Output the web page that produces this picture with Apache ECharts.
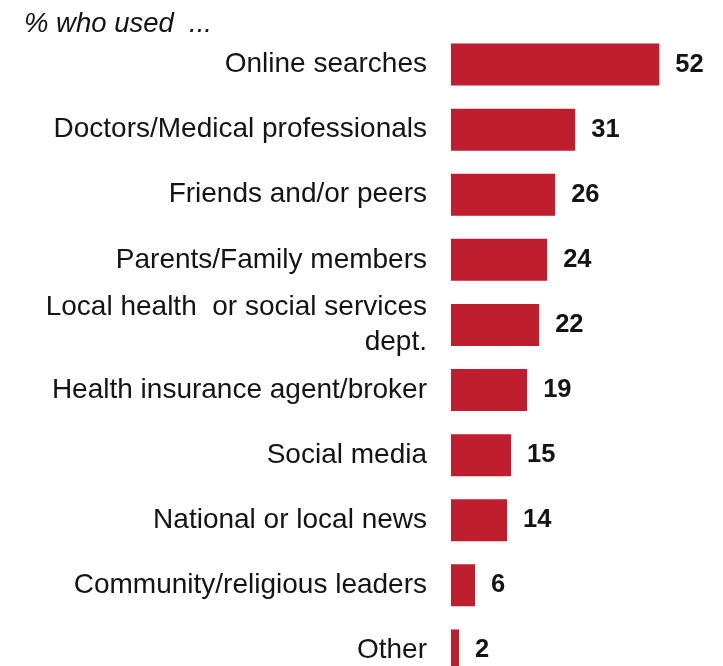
<!DOCTYPE html>
<html>
<head>
<meta charset="utf-8">
<script src="https://cdn.jsdelivr.net/npm/echarts@6/dist/echarts.min.js"></script>
<style>
  html, body { margin: 0; padding: 0; background: #ffffff; overflow: hidden; }
  /* the last row runs past the bottom edge of the page, so the canvas is taller than the viewport */
  #chart { width: 723px; height: 700px; }
</style>
</head>
<body>
<div id="chart"></div>
<script>
// Sources people used, share in percent
const categories = [
  'Online searches',
  'Doctors/Medical professionals',
  'Friends and/or peers',
  'Parents/Family members',
  'Local health  or social services\ndept.',
  'Health insurance agent/broker',
  'Social media',
  'National or local news',
  'Community/religious leaders',
  'Other'
];
const values = [52, 31, 26, 24, 22, 19, 15, 14, 6, 2];
const headerText = '% who used  ...';

const FONT = '"Liberation Sans", Arial, sans-serif';
const BAR_RED = '#BE1E2D';
const INK = '#141414';

const chart = echarts.init(document.getElementById('chart'), null, { renderer: 'canvas' });

chart.setOption({
  animation: false,
  backgroundColor: '#ffffff',
  title: {
    text: headerText,
    left: 19,
    top: 6,
    textStyle: {
      fontFamily: FONT,
      fontSize: 27.5,
      fontStyle: 'italic',
      fontWeight: 'normal',
      color: INK
    }
  },
  grid: {
    left: 451,
    top: 32,
    height: 651,
    width: 240.4,
    containLabel: false
  },
  xAxis: {
    type: 'value',
    min: 0,
    max: 60,
    show: false
  },
  yAxis: {
    type: 'category',
    data: categories,
    inverse: true,
    axisLine: { show: false },
    axisTick: { show: false },
    splitLine: { show: false },
    axisLabel: {
      margin: 24,
      fontFamily: FONT,
      fontSize: 28,
      lineHeight: 35,
      color: INK,
      align: 'right',
      padding: [3, 0, 0, 0]
    }
  },
  series: [{
    type: 'bar',
    data: values,
    barWidth: 42,
    itemStyle: { color: BAR_RED },
    label: {
      show: true,
      position: 'right',
      distance: 16,
      fontFamily: FONT,
      fontSize: 25.5,
      fontWeight: 'bold',
      color: INK
    }
  }]
});
</script>
</body>
</html>
